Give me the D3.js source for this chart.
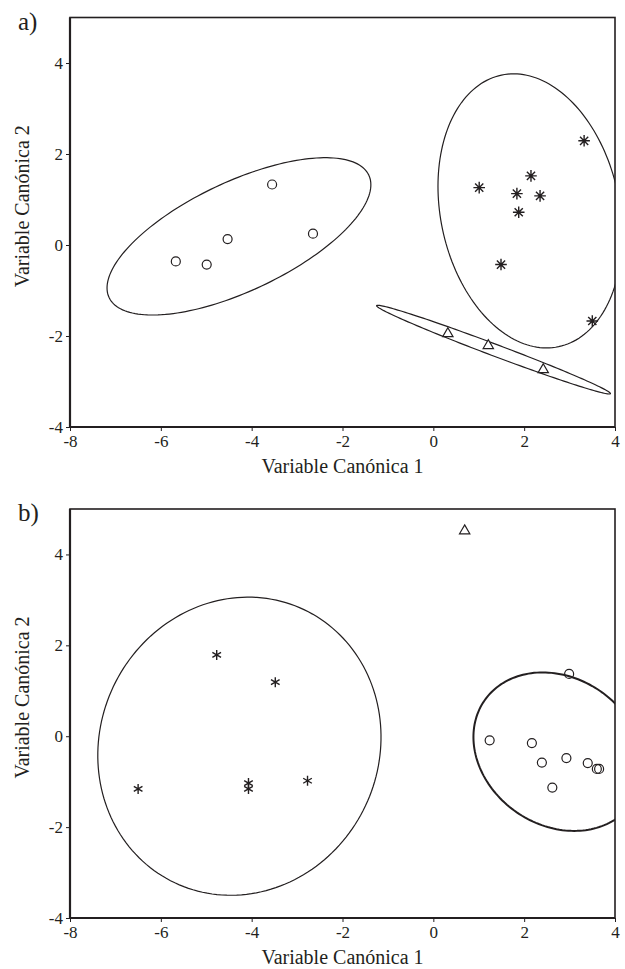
<!DOCTYPE html>
<html>
<head>
<meta charset="utf-8">
<script src="https://cdn.jsdelivr.net/npm/d3@7"></script>
<style>
  body { margin: 0; background: #fff; }
  text { font-family: "Liberation Serif", "Times New Roman", serif; fill: #231f20; }
</style>
</head>
<body>
<div id="chart"></div>
<script>
'use strict'

// axis ticks (shared by both panels)
const xTicks = [-8, -6, -4, -2, 0, 2, 4]
const yTicks = [-4, -2, 0, 2, 4]
const xDomain = [-8, 4]
const yDomain = [-4, 5]

// panel a) points [Variable Canonica 1, Variable Canonica 2]
const circlesA = [[-5.67, -0.36], [-4.99, -0.43], [-4.53, 0.13], [-3.55, 1.33], [-2.65, 0.25]]
const starsA = [[1.01, 1.26], [1.84, 1.13], [2.15, 1.52], [2.35, 1.08], [1.88, 0.72], [3.32, 2.29], [1.49, -0.43], [3.5, -1.67]]
const trianglesA = [[0.32, -1.95], [1.21, -2.21], [2.42, -2.74]]
// confidence ellipses a): centre x, centre y, semi-axis 1, semi-axis 2, angle (deg)
const ellipsesA = [
    [-4.28, 0.19, 3.16, 1.20, 25.2],
    [2.13, 0.75, 3.05, 1.97, 101.9],
    [1.325, -2.30, 2.75, 0.13, -20.6]
]

// panel b) points
const trianglesB = [[0.69, 4.52]]
const starsB = [[-4.77, 1.79], [-3.48, 1.19], [-6.50, -1.16], [-4.07, -1.03], [-4.07, -1.16], [-2.77, -0.98]]
const circlesB = [[1.24, -0.09], [2.17, -0.15], [2.39, -0.58], [2.93, -0.48], [3.40, -0.59], [3.60, -0.72], [3.65, -0.72], [2.62, -1.13], [2.99, 1.37]]
const ellipsesB = [
    [-4.27, -0.22, 3.325, 3.07, 64.7],
    [2.755, -0.34, 1.98, 1.62, -34.5]
]

const svgWidth = 625
const svgHeight = 969

const svg = d3.select('#chart')
    .append('svg')
    .attr('width', svgWidth)
    .attr('height', svgHeight)

function ellipsePoints(e) {
    const [cx, cy, a, b, ang] = e
    const t = ang * Math.PI / 180
    return d3.range(0, 361, 2).map(function (k) {
        const u = k * Math.PI / 180
        const ex = a * Math.cos(u), ey = b * Math.sin(u)
        return [cx + ex * Math.cos(t) - ey * Math.sin(t), cy + ex * Math.sin(t) + ey * Math.cos(t)]
    })
}

// 8-armed asterisk as in panel a
function starPath(r) {
    const p = d3.path()
    const d = r * Math.SQRT1_2
    p.moveTo(0, -r); p.lineTo(0, r)
    p.moveTo(-r, 0); p.lineTo(r, 0)
    p.moveTo(-d, -d); p.lineTo(d, d)
    p.moveTo(-d, d); p.lineTo(d, -d)
    return p.toString()
}

function panel(opt) {
    const g = svg.append('g')

    const x = d3.scaleLinear().domain(xDomain).range([opt.left, opt.right])
    const y = d3.scaleLinear().domain(yDomain).range([opt.bottom, opt.top])

    g.append('clipPath').attr('id', 'clip-' + opt.id)
        .append('rect')
        .attr('x', opt.left).attr('y', opt.top)
        .attr('width', opt.right - opt.left).attr('height', opt.bottom - opt.top)

    // frame
    g.append('rect')
        .attr('x', opt.left).attr('y', opt.top)
        .attr('width', opt.right - opt.left).attr('height', opt.bottom - opt.top)
        .attr('fill', 'none')
        .attr('stroke', '#231f20')
        .attr('stroke-width', 1.6)

    // axes
    const xAxis = d3.axisBottom(x).tickValues(xTicks).tickSize(4).tickPadding(4)
        .tickFormat(function (d) { return String(d) })
    const yAxis = d3.axisLeft(y).tickValues(yTicks).tickSize(4).tickPadding(3)
        .tickFormat(function (d) { return String(d) })

    const gx = g.append('g')
        .attr('transform', `translate(0,${opt.bottom})`)
        .call(xAxis)
    const gy = g.append('g')
        .attr('transform', `translate(${opt.left},0)`)
        .call(yAxis)

    for (const ax of [gx, gy]) {
        ax.select('.domain').remove()
        ax.selectAll('line').attr('stroke', '#231f20').attr('stroke-width', 1)
        ax.selectAll('text')
            .style('font-family', '"Liberation Serif", "Times New Roman", serif')
            .style('font-size', '17px')
            .attr('fill', '#231f20')
    }

    // heavier left and bottom axis lines
    g.append('line')
        .attr('x1', opt.left).attr('x2', opt.left)
        .attr('y1', opt.top).attr('y2', opt.bottom)
        .attr('stroke', '#231f20').attr('stroke-width', 2.2)
    g.append('line')
        .attr('x1', opt.left).attr('x2', opt.right)
        .attr('y1', opt.bottom).attr('y2', opt.bottom)
        .attr('stroke', '#231f20').attr('stroke-width', 2.2)

    // titles
    g.append('text')
        .attr('x', (opt.left + opt.right) / 2)
        .attr('y', opt.bottom + 46)
        .attr('text-anchor', 'middle')
        .style('font-size', '20px')
        .text('Variable Canónica 1')

    g.append('text')
        .attr('transform', `translate(29,${(opt.top + opt.bottom) / 2 - 16}) rotate(-90)`)
        .attr('text-anchor', 'middle')
        .style('font-size', '20px')
        .text('Variable Canónica 2')

    g.append('text')
        .attr('x', 18)
        .attr('y', opt.top + 12)
        .style('font-size', '25px')
        .text(opt.label)

    // ellipses
    const line = d3.line()
        .x(function (d) { return x(d[0]) })
        .y(function (d) { return y(d[1]) })
        .curve(d3.curveLinearClosed)

    g.append('g')
        .attr('clip-path', `url(#clip-${opt.id})`)
        .selectAll('path')
        .data(opt.ellipses)
        .join('path')
        .attr('d', function (d) { return line(ellipsePoints(d)) })
        .attr('fill', 'none')
        .attr('stroke', '#231f20')
        .attr('stroke-width', function (d, i) { return opt.thick === i ? 2 : 1.2 })

    // circles
    g.selectAll('.pt-circle')
        .data(opt.circles)
        .join('circle')
        .attr('class', 'pt-circle')
        .attr('cx', function (d) { return x(d[0]) })
        .attr('cy', function (d) { return y(d[1]) })
        .attr('r', 4.5)
        .attr('fill', 'none')
        .attr('stroke', '#231f20')
        .attr('stroke-width', 1.2)

    // asterisks
    g.selectAll('.pt-star')
        .data(opt.stars)
        .join('path')
        .attr('class', 'pt-star')
        .attr('transform', function (d) { return `translate(${x(d[0])},${y(d[1])})` })
        .attr('d', opt.starShape)
        .attr('fill', 'none')
        .attr('stroke', '#231f20')
        .attr('stroke-width', opt.starWidth)

    // triangles
    g.selectAll('.pt-tri')
        .data(opt.triangles)
        .join('path')
        .attr('class', 'pt-tri')
        .attr('transform', function (d) { return `translate(${x(d[0])},${y(d[1])})` })
        .attr('d', d3.symbol(d3.symbolTriangle, 46))
        .attr('fill', '#fff')
        .attr('stroke', '#231f20')
        .attr('stroke-width', 1.2)
}

panel({
    id: 'a', label: 'a)',
    left: 70, right: 615, top: 17.5, bottom: 427,
    circles: circlesA, stars: starsA, triangles: trianglesA,
    ellipses: ellipsesA, thick: -1,
    starShape: starPath(5.8), starWidth: 1.4
})

panel({
    id: 'b', label: 'b)',
    left: 70, right: 615, top: 509, bottom: 918,
    circles: circlesB, stars: starsB, triangles: trianglesB,
    ellipses: ellipsesB, thick: 1,
    starShape: d3.symbol(d3.symbolAsterisk, 70)(), starWidth: 1.4
})
</script>
</body>
</html>
